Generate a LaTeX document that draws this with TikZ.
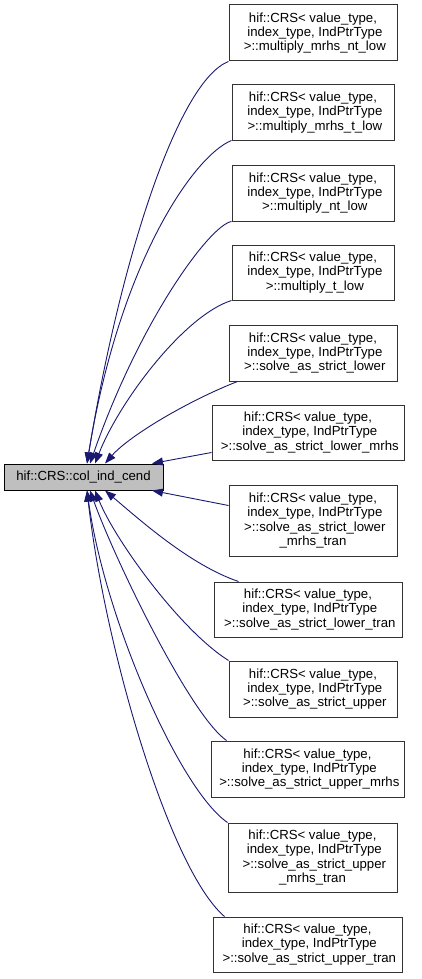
\documentclass[tikz,border=0pt]{standalone}
\usepackage{fontspec}
\setmainfont{Liberation Sans}
\usetikzlibrary{arrows.meta}
\definecolor{callblue}{HTML}{191970}
\definecolor{curgray}{HTML}{BFBFBF}
\newcommand{\crspre}{hif::CRS< value\_type,\\ \mbox{}\ index\_type, IndPtrType\\ \mbox{}\ >::}

\begin{document}
\begin{tikzpicture}[
    x=1pt, y=1pt,
    fn/.style={rectangle, draw=black!80, line width=1pt, inner sep=0pt, align=center, font=\fontsize{13.2}{14.3}\selectfont},
    cur/.style={fn, draw=black, fill=curgray},
    call/.style={callblue, line width=0.9pt, -{Triangle[length=11pt,width=8pt]}},
]
\useasboundingbox (0,0) rectangle (421,-979);

\node[cur, minimum width=159pt, minimum height=26pt] (cend) at (83.5,-477) {hif::CRS::col\_ind\_cend};

\node[fn, minimum width=168pt, minimum height=56pt] (mnt) at (313,-33) {\crspre multiply\_mrhs\_nt\_low};
\node[fn, minimum width=162pt, minimum height=55pt] (mt) at (313,-112.5) {\crspre multiply\_mrhs\_t\_low};
\node[fn, minimum width=162pt, minimum height=56pt] (nt) at (313,-193) {\crspre multiply\_nt\_low};
\node[fn, minimum width=162pt, minimum height=55pt] (tl) at (313,-272.5) {\crspre multiply\_t\_low};
\node[fn, minimum width=168pt, minimum height=56pt] (sl) at (313,-353) {\crspre solve\_as\_strict\_lower};
\node[fn, minimum width=192pt, minimum height=55pt] (slm) at (308,-432.5) {\crspre solve\_as\_strict\_lower\_mrhs};
\node[fn, minimum width=168pt, minimum height=71pt] (slmt) at (313,-520.5) {\crspre solve\_as\_strict\_lower\\ \_mrhs\_tran};
\node[fn, minimum width=188pt, minimum height=55pt] (slt) at (308,-609.5) {\crspre solve\_as\_strict\_lower\_tran};
\node[fn, minimum width=168pt, minimum height=56pt] (su) at (313,-689) {\crspre solve\_as\_strict\_upper};
\node[fn, minimum width=193pt, minimum height=56pt] (sum) at (307.5,-769) {\crspre solve\_as\_strict\_upper\_mrhs};
\node[fn, minimum width=169pt, minimum height=69pt] (sumt) at (312.5,-857.5) {\crspre solve\_as\_strict\_upper\\ \_mrhs\_tran};
\node[fn, minimum width=189pt, minimum height=55pt] (sut) at (307.5,-944.5) {\crspre solve\_as\_strict\_upper\_tran};

% callers above
\draw[call] (mnt.south west) .. controls (180,-80) and (122,-250) .. ([xshift=3.5pt]cend.north);
\draw[call] (mt.south west) .. controls (195,-155) and (120,-260) .. ([xshift=3.5pt]cend.north);
\draw[call] (nt.south west) .. controls (210,-225) and (140,-320) .. ([xshift=6.5pt]cend.north);
\draw[call] (tl.south west) .. controls (185,-315) and (120,-400) .. ([xshift=11.5pt]cend.north);
\draw[call] ([xshift=9pt]sl.south west) .. controls (190,-400) and (130,-435) .. ([xshift=21.5pt]cend.north);
\draw[call] ([yshift=8pt]slm.south west) -- ([xshift=68.5pt]cend.north);
% callers below
\draw[call] ([yshift=15pt]slmt.west) -- ([xshift=68.5pt]cend.south);
\draw[call] ([xshift=25pt]slt.north west) .. controls (190,-565) and (140,-520) .. ([xshift=21.5pt]cend.south);
\draw[call] (su.north west) .. controls (180,-630) and (115,-540) .. ([xshift=11.5pt]cend.south);
\draw[call] ([xshift=16pt]sum.north west) .. controls (190,-715) and (115,-560) .. ([xshift=6.5pt]cend.south);
\draw[call] (sumt.north west) .. controls (180,-790) and (105,-620) .. ([xshift=3.5pt]cend.south);
\draw[call] ([xshift=12pt]sut.north west) .. controls (170,-870) and (105,-650) .. ([xshift=3.5pt]cend.south);
\end{tikzpicture}
\end{document}
